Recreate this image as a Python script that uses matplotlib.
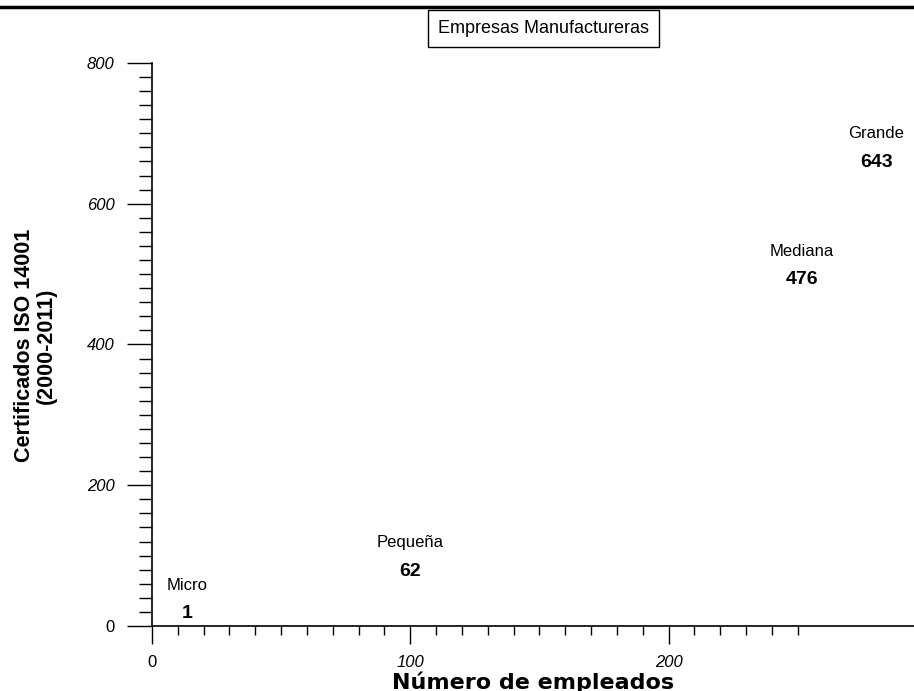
import matplotlib.pyplot as plt
from matplotlib.lines import Line2D
from matplotlib.ticker import FixedLocator

# empresas manufactureras: tamano, empleados (posicion x) y certificados
categorias = ['Micro', 'Pequeña', 'Mediana', 'Grande']
empleados = [13.5, 100, 251.5, 280.5]
certificados = [1, 62, 476, 643]

xticks = [0, 100, 200]
yticks = [0, 200, 400, 600, 800]

plt.rcParams['font.family'] = ['Liberation Sans', 'DejaVu Sans']

fig = plt.figure(figsize=(9.14, 6.91), dpi=100)
ax = fig.add_axes([0.1663, 0.0941, 0.8337, 0.8148])
ax.set_xlim(0, 295)
ax.set_ylim(0, 800)

for s in ['top', 'right']:
    ax.spines[s].set_visible(False)
ax.spines['left'].set_bounds(0, 800)
ax.spines['left'].set_linewidth(1.2)
ax.spines['bottom'].set_linewidth(1.2)
ax.patch.set_alpha(0)

ax.set_xticks(xticks)
ax.set_xticklabels([str(t) for t in xticks])
ax.xaxis.set_minor_locator(FixedLocator(list(range(0, 260, 10))))
ax.set_yticks(yticks)
ax.set_yticklabels([str(t) for t in yticks])
ax.yaxis.set_minor_locator(FixedLocator(list(range(0, 801, 20))))

ax.tick_params(axis='x', which='major', direction='out', length=13, width=1, pad=8, labelsize=12)
ax.tick_params(axis='x', which='minor', direction='out', length=6.5, width=1)
ax.tick_params(axis='y', which='major', direction='out', length=18, width=1, pad=9, labelsize=12)
ax.tick_params(axis='y', which='minor', direction='out', length=9.5, width=1)

for lab in ax.get_xticklabels() + ax.get_yticklabels():
    if lab.get_text() != '0':
        lab.set_style('italic')

ax.set_xlabel('Número de empleados', fontsize=16, fontweight='bold',
              family='DejaVu Sans', labelpad=1)

fig.text(0.039, 0.50, 'Certificados ISO 14001\n(2000-2011)', rotation=90,
         ha='center', va='center', multialignment='center',
         fontsize=15.5, fontweight='bold', linespacing=1.05)

# valor y nombre de cada tamano de empresa
for cat, x, y in zip(categorias, empleados, certificados):
    ax.annotate(str(y), (x, y), xytext=(0, 2), textcoords='offset points',
                ha='center', va='bottom', fontsize=14, fontweight='bold')
    ax.annotate(cat, (x, y), xytext=(0, 23), textcoords='offset points',
                ha='center', va='bottom', fontsize=12)

fig.text(0.595, 0.959, 'Empresas Manufactureras', ha='center', va='center',
         fontsize=13,
         bbox=dict(boxstyle='square,pad=0.55', fc='white', ec='black', lw=1))

# linea superior
fig.add_artist(Line2D([0, 1], [0.99, 0.99], transform=fig.transFigure,
                      color='black', lw=2.5))

fig.savefig('out.png', dpi=100)
